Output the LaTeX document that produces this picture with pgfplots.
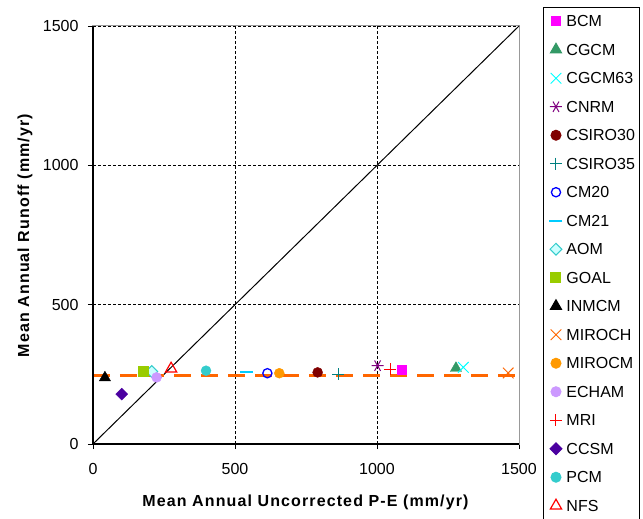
\documentclass[border=0pt]{standalone}
\usepackage{pgfplots}
\pgfplotsset{compat=1.18}
\usepackage{fontspec}
\setmainfont{Liberation Sans}
\newfontfamily\labelfont[LetterSpace=7]{Liberation Sans}
\definecolor{cBCM}{RGB}{255,0,255}
\definecolor{cCGCM}{RGB}{51,153,102}
\definecolor{cCGCMsix}{RGB}{0,255,255}
\definecolor{cCNRM}{RGB}{128,0,128}
\definecolor{cCSIROa}{RGB}{128,0,0}
\definecolor{cCSIROb}{RGB}{0,128,128}
\definecolor{cCMtw}{RGB}{0,0,255}
\definecolor{cCMtwo}{RGB}{0,204,255}
\definecolor{cAOMd}{RGB}{51,204,204}
\definecolor{cAOMf}{RGB}{204,255,255}
\definecolor{cGOAL}{RGB}{153,204,0}
\definecolor{cMIROCH}{RGB}{255,102,0}
\definecolor{cMIROCM}{RGB}{255,153,0}
\definecolor{cECHAM}{RGB}{204,153,255}
\definecolor{cMRI}{RGB}{255,0,0}
\definecolor{cCCSM}{RGB}{75,0,160}
\definecolor{cPCM}{RGB}{51,204,204}
\definecolor{cNFS}{RGB}{255,0,0}
\definecolor{cOrange}{RGB}{255,102,0}
\begin{document}
\begin{tikzpicture}
\path[use as bounding box] (-93bp,-75bp) rectangle (550bp,444bp);
\begin{axis}[
  at={(0,0)}, anchor=south west,
  scale only axis, width=426bp, height=418bp,
  xmin=0, xmax=1500, ymin=0, ymax=1500,
  xtick={0,500,1000,1500}, ytick={0,500,1000,1500},
  tick pos=left, tick align=outside, major tick length=5bp,
  tick style={black, line width=0.8bp},
  axis line style={gray!80, line width=1bp},
  grid=major, grid style={black, dash pattern=on 3bp off 2bp, line width=0.7bp},
  /pgf/number format/assume math mode=true,
  /pgf/number format/1000 sep={},
  ticklabel style={font=\fontsize{16bp}{18bp}\selectfont},
  xticklabel style={yshift=-11bp},
  yticklabel style={xshift=-6bp},
  xlabel={\textbf{Mean Annual Uncorrected P-E (mm/yr)}},
  ylabel={\textbf{Mean Annual Runoff (mm/yr)}},
  label style={font=\labelfont\fontsize{16bp}{18bp}\selectfont},
  xlabel style={at={(axis description cs:0.5,-0.1388)}, anchor=center},
  ylabel style={at={(axis description cs:-0.1596,0.5)}, anchor=center},
  legend style={at={(axis description cs:1.0563,1.0455)}, anchor=north west,
    draw=black, line width=1bp, font=\fontsize{16bp}{18bp}\selectfont,
    inner xsep=3bp, inner ysep=6bp, row sep=13bp, column sep=2bp,
    nodes={text height=11.5bp, text depth=0bp, inner sep=2bp}},
  legend cell align=left,
  legend image code/.code={\path (0bp,0bp) (15bp,0bp); \draw[mark repeat=2,mark phase=2,#1] plot coordinates {(3bp,0bp)(9bp,0bp)(15bp,0bp)};},
  clip=false,
]
\addplot[forget plot, black, line width=1bp] coordinates {(0,0)(1500,1500)};
\addplot[forget plot, cOrange, line width=3bp, dash pattern=on 17bp off 10bp] coordinates {(0,245)(1500,245)};

\addplot[only marks, mark=square*, mark size=4.6bp, color=cBCM] coordinates {(1087,267)};
\addlegendentry{BCM}
\addplot[only marks, mark=triangle*, mark size=6.5bp, color=cCGCM] coordinates {(1278,272)};
\addlegendentry{CGCM}
\addplot[only marks, mark=x, mark size=7.5bp, color=cCGCMsix, mark options={line width=1bp}] coordinates {(1304,275)};
\addlegendentry{CGCM63}
\addplot[only marks, mark=asterisk, mark size=6bp, color=cCNRM, mark options={line width=1bp, rotate=90}] coordinates {(1002,281)};
\addlegendentry{CNRM}
\addplot[only marks, mark=*, mark size=5bp, color=cCSIROa] coordinates {(791,257)};
\addlegendentry{CSIRO30}
\addplot[only marks, mark=+, mark size=6bp, color=cCSIROb, mark options={line width=1bp}] coordinates {(864,251)};
\addlegendentry{CSIRO35}
\addplot[only marks, mark=o, mark size=4.6bp, color=cCMtw, mark options={line width=1.3bp}] coordinates {(614,254)};
\addlegendentry{CM20}
\addplot[only marks, mark=-, mark size=6.5bp, color=cCMtwo, mark options={line width=2.2bp}] coordinates {(539,257)};
\addlegendentry{CM21}
\addplot[only marks, mark=square*, mark size=4.2bp, mark options={rotate=45, draw=cAOMd, fill=cAOMf, line width=1bp}] coordinates {(207,260)};
\addlegendentry{AOM}
\addplot[only marks, mark=square*, mark size=5bp, color=cGOAL] coordinates {(175,260)};
\addlegendentry{GOAL}
\addplot[only marks, mark=triangle*, mark size=6.5bp, color=black] coordinates {(42,238)};
\addlegendentry{INMCM}
\addplot[only marks, mark=x, mark size=7.5bp, color=cMIROCH, mark options={line width=1bp}] coordinates {(1462,255)};
\addlegendentry{MIROCH}
\addplot[only marks, mark=*, mark size=5bp, color=cMIROCM] coordinates {(656,254)};
\addlegendentry{MIROCM}
\addplot[only marks, mark=*, mark size=5bp, color=cECHAM] coordinates {(224,239)};
\addlegendentry{ECHAM}
\addplot[only marks, mark=+, mark size=6bp, color=cMRI, mark options={line width=1bp}] coordinates {(1046,269)};
\addlegendentry{MRI}
\addplot[only marks, mark=square*, mark size=4.2bp, color=cCCSM, mark options={rotate=45}] coordinates {(101,179)};
\addlegendentry{CCSM}
\addplot[only marks, mark=*, mark size=5bp, color=cPCM] coordinates {(398,263)};
\addlegendentry{PCM}
\addplot[only marks, mark=triangle, mark size=6.5bp, color=cNFS, mark options={line width=1.2bp}] coordinates {(275,270)};
\addlegendentry{NFS}
\draw[black, line width=1.5bp] (rel axis cs:0,1) -- (rel axis cs:0,0) -- (rel axis cs:1,0);
\end{axis}
\end{tikzpicture}
\end{document}
